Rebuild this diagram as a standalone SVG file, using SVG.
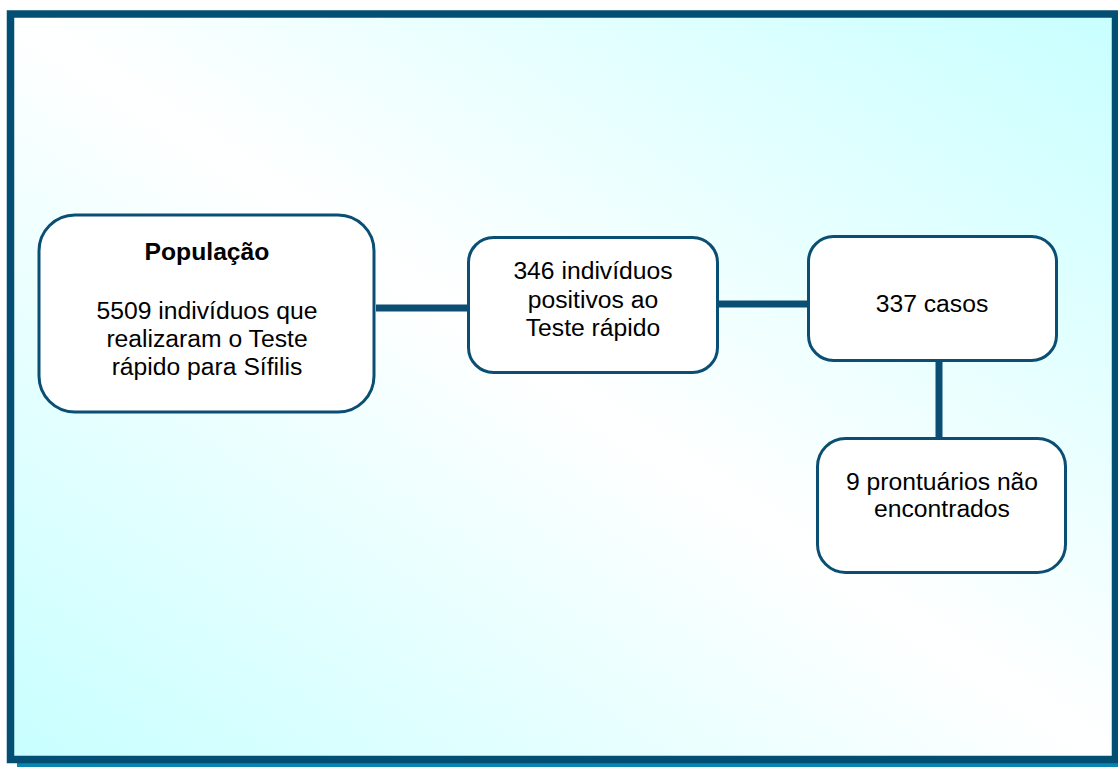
<svg xmlns="http://www.w3.org/2000/svg" width="1118" height="767" viewBox="0 0 1118 767">
<defs>
<linearGradient id="bg" x1="1" y1="0" x2="0" y2="1">
<stop offset="0" stop-color="#c8ffff"/>
<stop offset="0.5" stop-color="#ffffff"/>
<stop offset="1" stop-color="#c8ffff"/>
</linearGradient>
<style>
.node rect{fill:#ffffff;stroke:#0a4f73;stroke-width:3}
.conn line{stroke:#0a4f73;stroke-width:7}
text{font-family:"Liberation Sans",Arial,sans-serif;font-size:24.7px;fill:#000;text-anchor:middle}
.b{font-weight:bold}
</style>
</defs>
<rect x="17" y="760" width="1101" height="7" fill="#0a85b0"/>
<rect x="10.5" y="14" width="1105" height="745.5" fill="url(#bg)" stroke="#034f74" stroke-width="7.5"/>
<g class="conn">
<line x1="376" y1="308" x2="468" y2="308"/>
<line x1="718" y1="304" x2="808" y2="304"/>
<line x1="939" y1="360" x2="939" y2="438"/>
</g>
<g id="n1" class="node">
<rect x="39" y="215" width="335" height="197" rx="36"/>
<text x="207" y="260" class="b">População</text>
<text x="207" y="319">5509 indivíduos que</text>
<text x="207" y="347">realizaram o Teste</text>
<text x="207" y="375">rápido para Sífilis</text>
</g>
<g id="n2" class="node">
<rect x="468.5" y="237.5" width="249" height="135" rx="25"/>
<text x="593" y="279">346 indivíduos</text>
<text x="593" y="308">positivos ao</text>
<text x="593" y="336">Teste rápido</text>
</g>
<g id="n3" class="node">
<rect x="808.5" y="236.5" width="248" height="124" rx="25"/>
<text x="932" y="312">337 casos</text>
</g>
<g id="n4" class="node">
<rect x="817.5" y="438.5" width="248" height="134" rx="28"/>
<text x="942" y="490">9 prontuários não</text>
<text x="942" y="517">encontrados</text>
</g>
</svg>
